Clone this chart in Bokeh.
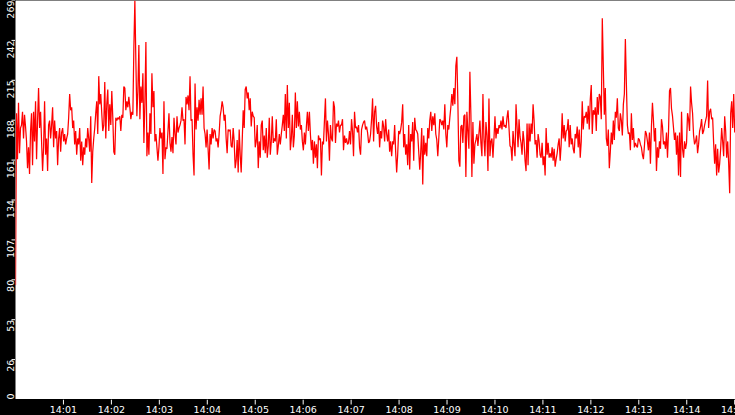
import math
from bokeh.plotting import figure
from bokeh.models import Range1d, Spacer
from bokeh.layouts import row, column
from bokeh.core.properties import value
from bokeh.embed import file_html
from bokeh.resources import INLINE

# ---- data: samples, 14:00 -> 14:15 ----
seg_1400 = [77, 193, 162, 200, 166, 183, 185, 194, 176, 192,
            184, 174, 156, 170, 152, 181, 193, 158, 194, 174,
            201, 162, 188, 210, 183, 194, 174, 154, 170, 201,
            165, 176, 154, 185, 188, 176, 185, 197, 170, 188,
            176, 181, 158, 176, 183, 167, 180, 183, 174, 179,
            172, 176, 179, 190, 206, 195, 197, 183, 188, 172,
            181, 165, 176, 172, 183, 161, 174, 158, 170, 165,
            176, 170, 183, 176, 167, 191, 146, 167, 176, 183,
            193, 201, 179, 218, 199, 206, 193, 181, 185, 214,
            176, 199, 209, 181, 199, 185, 208, 190, 167, 165,
            190, 188, 190, 189, 191, 181, 192, 190, 211, 210,
            195, 201, 197, 204, 197, 189]
seg_1402 = [194, 192, 237, 269, 228, 191, 208, 239, 189, 211,
            200, 220, 173, 200, 241, 164, 180, 165, 193, 179,
            220, 197, 208, 174, 179, 170, 161, 170, 183, 176,
            180, 152, 201, 162, 170, 169, 181, 193, 173, 167,
            177, 166, 190, 179, 172, 191, 180, 183, 185, 188,
            197, 188, 189, 172, 204, 199, 205, 195, 218, 188,
            189, 165, 151, 213, 182, 197, 188, 202, 192, 203,
            192, 211, 183, 179, 170, 182, 169, 155, 179, 172,
            183, 176, 182, 181, 174, 176, 170, 179, 191, 195,
            201, 197, 188, 192, 176, 166, 182, 181, 182, 171,
            170, 183, 174, 156, 161, 175, 153, 182, 165, 153,
            174, 195, 183, 209, 211, 203, 207, 195, 203, 184,
            194, 191]
seg_1405 = [190, 170, 174, 185, 156, 174, 163, 185, 188, 168,
            178, 166, 183, 163, 171, 190, 165, 174, 191, 173,
            176, 174, 189, 165, 171, 179, 172, 179, 185, 192,
            181, 206, 176, 212, 183, 200, 168, 176, 192, 170,
            178, 207, 183, 201, 184, 194, 182, 185, 174, 168,
            180, 172, 184, 194, 181, 194, 179, 168, 175, 159,
            174, 163, 172, 156, 178, 175, 176, 151, 174, 172,
            188, 203, 174, 188, 179, 161, 185, 176, 174, 201,
            197, 173, 186, 184, 188, 180, 185, 185, 189, 168,
            178, 173, 176, 172, 173, 181, 172, 189, 181, 164,
            194, 183, 184, 180, 185, 170, 165, 182, 185, 187,
            188, 182, 184, 180, 173]
seg_1407 = [174, 179, 189, 203, 174, 194, 198, 184, 179, 187,
            170, 181, 176, 188, 184, 174, 189, 179, 174, 182,
            167, 174, 164, 174, 172, 185, 167, 153, 165, 181,
            179, 182, 187, 199, 170, 179, 165, 172, 158, 185,
            155, 179, 174, 187, 161, 190, 182, 181, 179, 167,
            155, 167, 183, 145, 178, 165, 173, 164, 183, 176,
            188, 194, 181, 191, 185, 193, 179, 175, 164, 176,
            189, 188, 185, 188, 182, 199, 179, 170, 185, 182,
            190, 197, 206, 198, 210, 199, 225, 231, 201, 161,
            157, 184, 185, 173, 191, 192, 150, 194, 181, 169,
            221, 192, 150, 187, 159, 172, 175, 179, 171, 179,
            188, 173, 164, 206, 176, 164, 187, 178, 154, 203,
            164, 174, 176, 163, 176]
seg_1410 = [191, 176, 183, 179, 185, 183, 188, 182, 191, 184,
            185, 183, 190, 195, 183, 171, 170, 161, 181, 172,
            164, 199, 184, 170, 189, 177, 173, 165, 181, 174,
            161, 154, 186, 158, 186, 174, 186, 179, 199, 188,
            172, 175, 163, 179, 174, 165, 163, 173, 158, 164,
            151, 183, 165, 173, 163, 166, 163, 170, 161, 169,
            157, 162, 166, 172, 176, 161, 172, 193, 176, 185,
            174, 181, 182, 189, 170, 185, 172, 176, 169, 166,
            179, 176, 184, 170, 182, 163, 174, 201, 182, 191,
            190, 194, 186, 198, 182, 202, 212, 179, 195, 192,
            197, 181, 204, 192, 206, 204, 189, 257, 225, 192,
            210, 176, 171, 182, 156, 167, 180, 172, 188, 175,
            194, 190, 203, 183, 181]
seg_1412 = [193, 188, 178, 199, 206, 243, 213, 185, 179, 180,
            168, 193, 175, 183, 170, 173, 171, 170, 176, 175,
            172, 170, 165, 162, 171, 181, 179, 174, 168, 180,
            159, 184, 200, 188, 174, 183, 154, 170, 163, 174,
            169, 189, 184, 172, 174, 169, 180, 163, 180, 208,
            210, 196, 191, 183, 175, 180, 165, 178, 151, 180,
            150, 194, 169, 163, 174, 169, 173, 193, 189, 181,
            211, 200, 193, 178, 172, 174, 178, 166, 172, 181,
            184, 189, 179, 181, 185, 188, 191, 215, 183, 194,
            196, 189, 190, 173, 159, 172, 151, 169, 153, 159,
            169, 183, 174, 164, 191, 181, 163, 174, 159, 139,
            193, 201, 183, 206, 180]

values = seg_1400 + seg_1402 + seg_1405 + seg_1407 + seg_1410 + seg_1412
span_seconds = 900.0          # 14:00:00 -> 14:15:00
n = len(values)
times = [span_seconds * i / (n - 1) for i in range(n)]

x_ticks = [60 * k for k in range(1, 16)]
x_tick_labels = ["14:01", "14:02", "14:03", "14:04", "14:05", "14:06", "14:07",
                 "14:08", "14:09", "14:10", "14:11", "14:12", "14:13", "14:14", "14:15"]
y_max = 269
y_ticks = [y_max * k / 10 for k in range(11)]
y_tick_labels = ["0", "26", "53", "80", "107", "134", "161", "188", "215", "242", "269"]

FONT = "DejaVu Sans"
FSIZE = "9.5px"
AXIS_W = 15      # left axis strip, px
AXIS_H = 16      # bottom axis strip, px
PLOT_W = 720
PLOT_H = 399
TICK = 5


def strip(fig):
    fig.axis.visible = False
    fig.grid.visible = False
    return fig


common = dict(output_backend="svg", toolbar_location=None,
              min_border_left=0, min_border_right=0, min_border_top=0, min_border_bottom=0,
              outline_line_color=None, border_fill_color="black")

# ---- main plot area ----
p = strip(figure(width=PLOT_W, height=PLOT_H,
                 x_range=Range1d(0, 901), y_range=Range1d(0, y_max),
                 background_fill_color="white", **common))
p.line(times, values, line_color="red", line_width=1.25)

# ---- left axis strip (rotated tick labels) ----
ax_l = strip(figure(width=AXIS_W, height=PLOT_H,
                    x_range=Range1d(0, AXIS_W), y_range=p.y_range,
                    background_fill_color="black", **common))
ax_l.segment(x0=AXIS_W - 4, x1=AXIS_W, y0=y_ticks, y1=y_ticks,
             line_color="white", line_width=1)
ax_l.text(x=[10.2] * (len(y_ticks) - 1), y=y_ticks[1:], text=y_tick_labels[1:],
          angle=math.pi / 2, text_align="right", text_baseline="alphabetic",
          text_color="white", text_font=value(FONT), text_font_size=value(FSIZE))
ax_l.text(x=[10.2], y=y_ticks[:1], text=y_tick_labels[:1],
          angle=math.pi / 2, text_align="left", text_baseline="alphabetic",
          text_color="white", text_font=value(FONT), text_font_size=value(FSIZE))

# ---- bottom axis strip ----
ax_b = strip(figure(width=PLOT_W, height=AXIS_H,
                    x_range=p.x_range, y_range=Range1d(0, AXIS_H),
                    background_fill_color="black", **common))
ax_b.segment(x0=x_ticks, x1=x_ticks, y0=AXIS_H, y1=AXIS_H - TICK,
             line_color="white", line_width=1)
ax_b.text(x=x_ticks, y=[0.4] * len(x_ticks), text=x_tick_labels,
          text_align="center", text_baseline="bottom",
          text_color="white", text_font=value(FONT), text_font_size=value(FSIZE))

layout = column(row(ax_l, p, spacing=0),
                row(Spacer(width=AXIS_W, height=AXIS_H), ax_b, spacing=0),
                spacing=0)

html = file_html(layout, INLINE, title="chart")
html = html.replace("</head>",
                    "<style>html,body{margin:0;padding:0;background:#000;overflow:hidden;}</style>\n</head>", 1)
open("out.html", "w").write(html)
